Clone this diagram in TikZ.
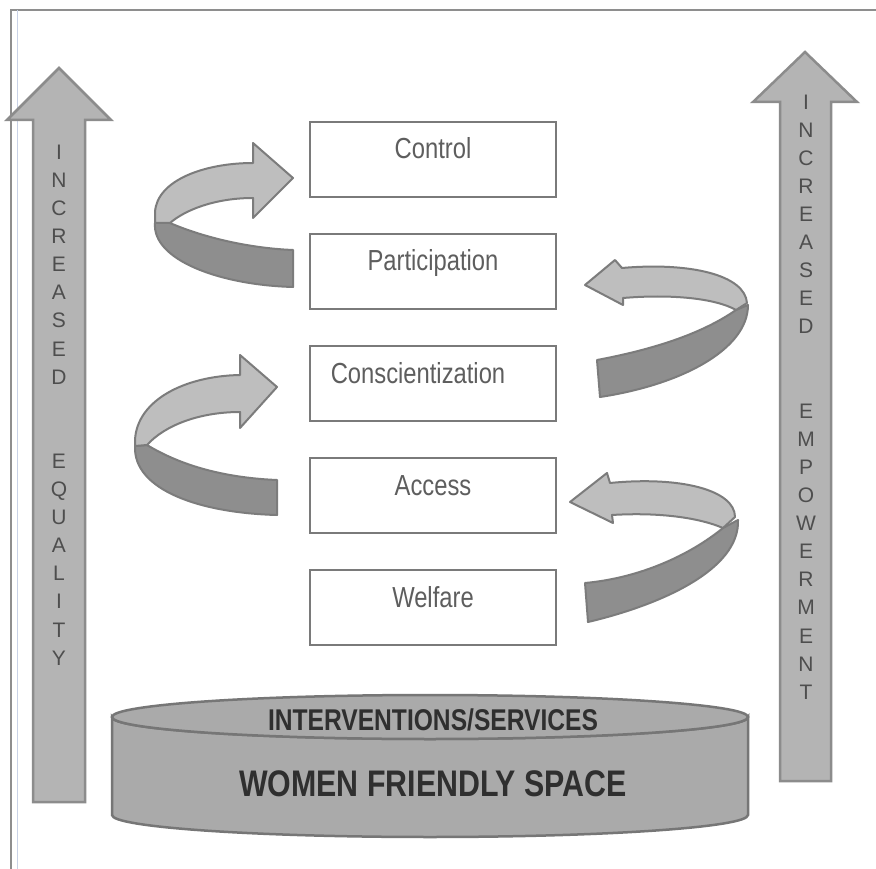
\documentclass[tikz,border=0pt]{standalone}
\usepackage{fontspec}
\setmainfont{Liberation Sans}
\usepackage{graphicx}
\usepackage{xcolor}

\definecolor{framegray}{HTML}{8E8E8E}
\definecolor{rulerblue}{HTML}{C9D2E6}
\definecolor{boxline}{HTML}{7A7A7A}
\definecolor{stagetext}{HTML}{5E5E5E}
\definecolor{arrowfill}{HTML}{B4B4B4}
\definecolor{arrowline}{HTML}{8C8C8C}
\definecolor{lettergray}{HTML}{4E4E4E}
\definecolor{bandlight}{HTML}{BEBEBE}
\definecolor{banddark}{HTML}{8E8E8E}
\definecolor{bandline}{HTML}{7C7C7C}
\definecolor{drumfill}{HTML}{AAAAAA}
\definecolor{drumline}{HTML}{767676}
\definecolor{drumtext}{HTML}{2F2F2F}

\newcommand{\slim}[1]{\scalebox{0.82}[1]{#1}}

\tikzset{
  stagebox/.style={draw=boxline, line width=1.6pt, fill=white,
    minimum width=246pt, inner xsep=0pt, inner ysep=0pt,
    text height=37pt, text depth=38pt, text=stagetext,
    font=\fontsize{29}{34}\selectfont},
  uparrow/.style={draw=arrowline, line width=2.5pt, fill=arrowfill},
  letters/.style={align=center, text=lettergray,
    font=\fontsize{21}{28.1}\selectfont},
  bandtop/.style={draw=bandline, line width=2pt, fill=bandlight, line join=round},
  bandback/.style={draw=bandline, line width=2pt, fill=banddark, line join=round},
  drum/.style={draw=drumline, line width=2.5pt, fill=drumfill},
  drumlabel/.style={text=drumtext, font=\bfseries}
}

\begin{document}
\begin{tikzpicture}[x=1pt,y=-1pt]
\useasboundingbox (0,0) rectangle (876,869);
\fill[white] (0,0) rectangle (876,869);

\draw[framegray, line width=1.5pt] (876,10) -- (11,10) -- (11,869);
\draw[rulerblue, line width=0.8pt] (17,10) -- (17,869);

\draw[uparrow] (33,802) -- (33,120) -- (7,120) -- (59,68) -- (111,120) -- (85,120) -- (85,802) -- cycle;
\node[letters] (equality) at (59,405) {I\\N\\C\\R\\E\\A\\S\\E\\D\\\mbox{}\\\mbox{}\\E\\Q\\U\\A\\L\\I\\T\\Y};

\draw[uparrow] (780,781) -- (780,102) -- (753,102) -- (805,52) -- (857,102) -- (831,102) -- (831,781) -- cycle;
\node[letters] (empowerment) at (806,397) {I\\N\\C\\R\\E\\A\\S\\E\\D\\\mbox{}\\\mbox{}\\E\\M\\P\\O\\W\\E\\R\\M\\E\\N\\T};

\node[stagebox] (control) at (433,159.5) {\slim{Control}};
\node[stagebox] (participation) at (433,271.5) {\slim{Participation}};
\node[stagebox] (conscientization) at (433,383.5) {\slim{Conscientization}\hspace*{30pt}};
\node[stagebox] (access) at (433,495.5) {\slim{Access}};
\node[stagebox] (welfare) at (433,607.5) {\slim{Welfare}};

% left loops
\draw[bandback] (155,223) -- (170,223) .. controls (200,236) and (245,248) .. (293,250) -- (293,287) .. controls (220,285) and (152,260) .. (155,223) -- cycle;
\draw[bandtop] (293,178) -- (253,143) -- (253,163) .. controls (205,163) and (157,180) .. (155,212) -- (155,223) -- (170,223) .. controls (185,210) and (215,198) .. (253,198) -- (253,218) -- cycle;

\draw[bandback] (135,446) -- (147,445) .. controls (185,468) and (230,478) .. (277,480) -- (277,515) .. controls (200,513) and (133,490) .. (135,446) -- cycle;
\draw[bandtop] (277,387) -- (240,355) -- (240,375) .. controls (185,376) and (137,400) .. (135,440) -- (135,446) -- (147,445) .. controls (165,425) and (200,412) .. (240,412) -- (240,428) -- cycle;

% right loops
\draw[bandback] (736,310) .. controls (700,335) and (650,350) .. (597,360) -- (600,397) .. controls (680,385) and (748,350) .. (748,305) -- cycle;
\draw[bandtop] (585,285) -- (615,260) -- (622,268) .. controls (690,262) and (745,275) .. (747,303) -- (736,310) .. controls (715,298) and (670,294) .. (623,298) -- (623,305) -- cycle;

\draw[bandback] (723,528) .. controls (690,555) and (640,578) .. (585,583) -- (588,622) .. controls (660,605) and (740,570) .. (738,520) -- cycle;
\draw[bandtop] (570,502) -- (607,473) -- (610,483) .. controls (680,476) and (735,490) .. (735,517) -- (723,528) .. controls (700,518) and (660,512) .. (612,515) -- (613,523) -- cycle;

% base drum
\draw[drum] (112,717) -- (112,815) arc[start angle=180, end angle=0, x radius=318, y radius=22] -- (748,717) arc[start angle=0, end angle=180, x radius=318, y radius=22] -- cycle;
\draw[drum] (430,717) ellipse[x radius=318, y radius=22];
\node[drumlabel, font=\bfseries\fontsize{30}{34}\selectfont] (services) at (433,720) {\slim{INTERVENTIONS/SERVICES}};
\node[drumlabel, font=\bfseries\fontsize{37}{42}\selectfont] (space) at (433,784) {\slim{WOMEN FRIENDLY SPACE}};
\end{tikzpicture}
\end{document}
